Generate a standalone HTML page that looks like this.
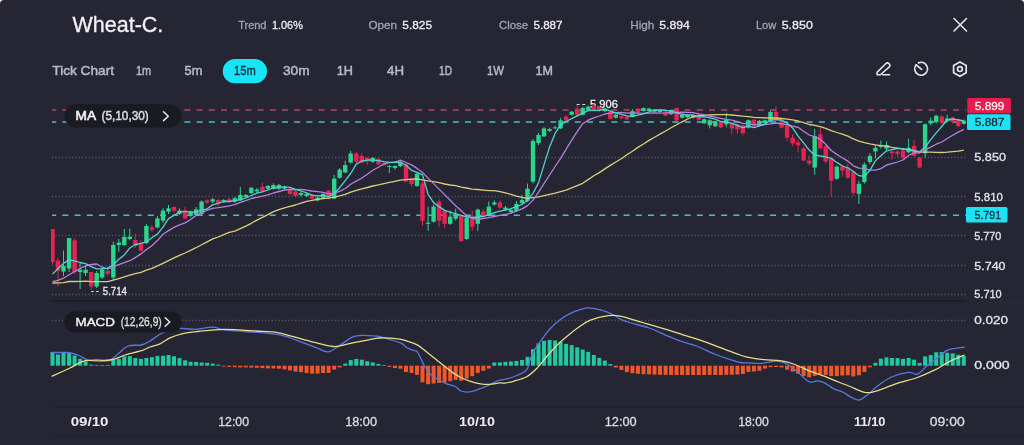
<!DOCTYPE html>
<html><head><meta charset="utf-8"><style>
html,body{margin:0;padding:0;background:#ffffff;}
body{width:1024px;height:445px;overflow:hidden;position:relative;}
svg{position:absolute;left:0;top:0;will-change:transform;font-family:"Liberation Sans",sans-serif;}
</style></head><body>
<svg width="1024" height="445" viewBox="0 0 1024 445">
<path d="M0 4 A4 4 0 0 1 4 0 H1020 A4 4 0 0 1 1024 4 V445 H0 Z" fill="#262533"/>
<text x="72.5" y="32.2" font-size="21.6" fill="#f2f2f6" font-weight="400" textLength="90.8" lengthAdjust="spacingAndGlyphs" stroke="#f2f2f6" stroke-width="0.3">Wheat-C.</text>
<text x="238.2" y="29.0" font-size="11.4" fill="#a3a3b0" font-weight="400" textLength="28.3" lengthAdjust="spacingAndGlyphs" stroke="#a3a3b0" stroke-width="0.3">Trend</text>
<text x="272.0" y="29.0" font-size="11.4" fill="#ececf2" font-weight="400" textLength="30.8" lengthAdjust="spacingAndGlyphs" stroke="#ececf2" stroke-width="0.3">1.06%</text>
<text x="368.4" y="29.0" font-size="11.4" fill="#a3a3b0" font-weight="400" textLength="28.6" lengthAdjust="spacingAndGlyphs" stroke="#a3a3b0" stroke-width="0.3">Open</text>
<text x="402.3" y="29.0" font-size="11.4" fill="#ececf2" font-weight="400" textLength="29.7" lengthAdjust="spacingAndGlyphs" stroke="#ececf2" stroke-width="0.3">5.825</text>
<text x="499.0" y="29.0" font-size="11.4" fill="#a3a3b0" font-weight="400" textLength="29.0" lengthAdjust="spacingAndGlyphs" stroke="#a3a3b0" stroke-width="0.3">Close</text>
<text x="533.5" y="29.0" font-size="11.4" fill="#ececf2" font-weight="400" textLength="29.0" lengthAdjust="spacingAndGlyphs" stroke="#ececf2" stroke-width="0.3">5.887</text>
<text x="630.2" y="29.0" font-size="11.4" fill="#a3a3b0" font-weight="400" textLength="24.2" lengthAdjust="spacingAndGlyphs" stroke="#a3a3b0" stroke-width="0.3">High</text>
<text x="659.2" y="29.0" font-size="11.4" fill="#ececf2" font-weight="400" textLength="30.6" lengthAdjust="spacingAndGlyphs" stroke="#ececf2" stroke-width="0.3">5.894</text>
<text x="755.9" y="29.0" font-size="11.4" fill="#a3a3b0" font-weight="400" textLength="20.3" lengthAdjust="spacingAndGlyphs" stroke="#a3a3b0" stroke-width="0.3">Low</text>
<text x="781.7" y="29.0" font-size="11.4" fill="#ececf2" font-weight="400" textLength="31.2" lengthAdjust="spacingAndGlyphs" stroke="#ececf2" stroke-width="0.3">5.850</text>
<path d="M954 18.5 L966.5 31 M966.5 18.5 L954 31" stroke="#e6e6ee" stroke-width="1.6" stroke-linecap="round" fill="none"/>
<text x="52.3" y="75.0" font-size="13.2" fill="#b9b9c6" font-weight="500" textLength="61.7" lengthAdjust="spacingAndGlyphs" stroke="#b9b9c6" stroke-width="0.5">Tick Chart</text>
<text x="136.0" y="75.0" font-size="13.2" fill="#b9b9c6" font-weight="500" textLength="15.1" lengthAdjust="spacingAndGlyphs" stroke="#b9b9c6" stroke-width="0.5">1m</text>
<text x="184.6" y="75.0" font-size="13.2" fill="#b9b9c6" font-weight="500" textLength="17.8" lengthAdjust="spacingAndGlyphs" stroke="#b9b9c6" stroke-width="0.5">5m</text>
<text x="283.0" y="75.0" font-size="13.2" fill="#b9b9c6" font-weight="500" textLength="26.6" lengthAdjust="spacingAndGlyphs" stroke="#b9b9c6" stroke-width="0.5">30m</text>
<text x="336.8" y="75.0" font-size="13.2" fill="#b9b9c6" font-weight="500" textLength="16.2" lengthAdjust="spacingAndGlyphs" stroke="#b9b9c6" stroke-width="0.5">1H</text>
<text x="387.0" y="75.0" font-size="13.2" fill="#b9b9c6" font-weight="500" textLength="17.0" lengthAdjust="spacingAndGlyphs" stroke="#b9b9c6" stroke-width="0.5">4H</text>
<text x="439.0" y="75.0" font-size="13.2" fill="#b9b9c6" font-weight="500" textLength="13.0" lengthAdjust="spacingAndGlyphs" stroke="#b9b9c6" stroke-width="0.5">1D</text>
<text x="487.0" y="75.0" font-size="13.2" fill="#b9b9c6" font-weight="500" textLength="17.0" lengthAdjust="spacingAndGlyphs" stroke="#b9b9c6" stroke-width="0.5">1W</text>
<text x="535.6" y="75.0" font-size="13.2" fill="#b9b9c6" font-weight="500" textLength="17.4" lengthAdjust="spacingAndGlyphs" stroke="#b9b9c6" stroke-width="0.5">1M</text>
<rect x="222.8" y="59.1" width="44.2" height="24.2" rx="12.1" fill="#17e4f5"/>
<text x="234.0" y="75.0" font-size="13.2" fill="#14303a" font-weight="500" textLength="21.7" lengthAdjust="spacingAndGlyphs" stroke="#14303a" stroke-width="0.4">15m</text>
<g transform="translate(872 58)" fill="none" stroke="#e6e6ee" stroke-width="1.5" stroke-linecap="round" stroke-linejoin="round"><path d="M5 16.7 V14.4 L13.7 5.7 a2.4 2.4 0 0 1 3.4 3.4 L8.4 16.7 Z"/><path d="M10.6 16.7 H17.6"/></g>
<g fill="none" stroke="#e6e6ee" stroke-width="1.7" stroke-linecap="round"><path d="M918.5 62.9 A6.4 6.4 0 1 1 916.3 73"/><path d="M916.2 64.8 A6.4 6.4 0 0 0 916.3 73"/><path d="M916.2 64.8 L921.6 69.3"/></g>
<g fill="none" stroke="#e6e6ee" stroke-width="1.7" stroke-linejoin="round"><path d="M959.9 61.9 L966.2 65.5 L966.2 72.7 L959.9 76.3 L953.6 72.7 L953.6 65.5 Z"/><circle cx="959.9" cy="69.1" r="2.4"/></g>
<line x1="52" y1="157.5" x2="966" y2="157.5" stroke="#5a5a6c" stroke-width="1.3" stroke-dasharray="1.1 2.23"/>
<line x1="52" y1="196.5" x2="966" y2="196.5" stroke="#5a5a6c" stroke-width="1.3" stroke-dasharray="1.1 2.23"/>
<line x1="52" y1="235.5" x2="966" y2="235.5" stroke="#5a5a6c" stroke-width="1.3" stroke-dasharray="1.1 2.23"/>
<line x1="52" y1="265.5" x2="966" y2="265.5" stroke="#5a5a6c" stroke-width="1.3" stroke-dasharray="1.1 2.23"/>
<line x1="52" y1="294.5" x2="966" y2="294.5" stroke="#5a5a6c" stroke-width="1.3" stroke-dasharray="1.1 2.23"/>
<line x1="52" y1="320.5" x2="966" y2="320.5" stroke="#5a5a6c" stroke-width="1.3" stroke-dasharray="1.1 2.23"/>
<line x1="52" y1="300.8" x2="966" y2="300.8" stroke="#1c1b26" stroke-width="1.2"/>
<line x1="968" y1="302.2" x2="1024" y2="302.2" stroke="#2d2c3b" stroke-width="1"/>
<line x1="52" y1="407.5" x2="1024" y2="407.5" stroke="#201f2b" stroke-width="1"/>
<line x1="52" y1="435.5" x2="1024" y2="435.5" stroke="#201f2b" stroke-width="1"/>
<line x1="52" y1="110" x2="966" y2="110" stroke="#b4456a" stroke-width="1.5" stroke-dasharray="6 6.2" stroke-dashoffset="1.8"/>
<line x1="52" y1="122" x2="966" y2="122" stroke="#45c0c4" stroke-width="1.5" stroke-dasharray="6 6.2" stroke-dashoffset="1.8"/>
<line x1="52" y1="215.3" x2="966" y2="215.3" stroke="#45c0c4" stroke-width="1.5" stroke-dasharray="6 6.2" stroke-dashoffset="1.8"/>
<text x="576.4" y="106.5" font-size="10" fill="#e6e6ee" font-weight="400" textLength="9.1" lengthAdjust="spacingAndGlyphs" stroke="#e6e6ee" stroke-width="0.3">- -</text>
<text x="589.9" y="107.6" font-size="11" fill="#ececf2" font-weight="400" textLength="28.1" lengthAdjust="spacingAndGlyphs" stroke="#ececf2" stroke-width="0.3">5.906</text>
<defs><clipPath id="cc"><rect x="51" y="90" width="916" height="215"/></clipPath></defs><g clip-path="url(#cc)">
<line x1="52.5" y1="229.0" x2="52.5" y2="264.0" stroke="#e62352" stroke-width="1"/>
<rect x="50.3" y="229.0" width="4.4" height="33.0" fill="#e62352"/>
<line x1="58.0" y1="258.0" x2="58.0" y2="286.3" stroke="#e62352" stroke-width="1"/>
<rect x="55.8" y="260.6" width="4.4" height="10.4" fill="#e62352"/>
<line x1="63.5" y1="250.5" x2="63.5" y2="276.0" stroke="#2ad68e" stroke-width="1"/>
<rect x="61.3" y="266.0" width="4.4" height="5.5" fill="#2ad68e"/>
<line x1="69.1" y1="238.0" x2="69.1" y2="272.0" stroke="#2ad68e" stroke-width="1"/>
<rect x="66.9" y="238.0" width="4.4" height="30.5" fill="#2ad68e"/>
<line x1="74.6" y1="238.0" x2="74.6" y2="274.0" stroke="#e62352" stroke-width="1"/>
<rect x="72.4" y="240.4" width="4.4" height="31.6" fill="#e62352"/>
<line x1="80.1" y1="263.0" x2="80.1" y2="289.0" stroke="#2ad68e" stroke-width="1"/>
<rect x="77.9" y="269.7" width="4.4" height="2.3" fill="#2ad68e"/>
<line x1="85.6" y1="265.0" x2="85.6" y2="276.0" stroke="#2ad68e" stroke-width="1"/>
<rect x="83.4" y="269.7" width="4.4" height="3.3" fill="#2ad68e"/>
<line x1="91.2" y1="272.0" x2="91.2" y2="290.0" stroke="#e62352" stroke-width="1"/>
<rect x="89.0" y="272.0" width="4.4" height="14.5" fill="#e62352"/>
<line x1="96.7" y1="271.0" x2="96.7" y2="288.0" stroke="#2ad68e" stroke-width="1"/>
<rect x="94.5" y="273.0" width="4.4" height="13.5" fill="#2ad68e"/>
<line x1="102.2" y1="267.0" x2="102.2" y2="279.0" stroke="#2ad68e" stroke-width="1"/>
<rect x="100.0" y="269.7" width="4.4" height="7.8" fill="#2ad68e"/>
<line x1="107.7" y1="267.0" x2="107.7" y2="276.0" stroke="#e62352" stroke-width="1"/>
<rect x="105.5" y="270.8" width="4.4" height="3.2" fill="#e62352"/>
<line x1="113.3" y1="241.6" x2="113.3" y2="280.0" stroke="#2ad68e" stroke-width="1"/>
<rect x="111.1" y="245.0" width="4.4" height="32.5" fill="#2ad68e"/>
<line x1="118.8" y1="239.0" x2="118.8" y2="251.7" stroke="#2ad68e" stroke-width="1"/>
<rect x="116.6" y="242.7" width="4.4" height="2.3" fill="#2ad68e"/>
<line x1="124.3" y1="229.0" x2="124.3" y2="246.0" stroke="#2ad68e" stroke-width="1"/>
<rect x="122.1" y="237.0" width="4.4" height="8.0" fill="#2ad68e"/>
<line x1="129.8" y1="228.7" x2="129.8" y2="240.4" stroke="#2ad68e" stroke-width="1"/>
<rect x="127.6" y="236.7" width="4.4" height="2.3" fill="#2ad68e"/>
<line x1="135.3" y1="233.7" x2="135.3" y2="248.0" stroke="#e62352" stroke-width="1"/>
<rect x="133.1" y="240.0" width="4.4" height="6.0" fill="#e62352"/>
<line x1="140.9" y1="240.4" x2="140.9" y2="251.7" stroke="#e62352" stroke-width="1"/>
<rect x="138.7" y="243.8" width="4.4" height="6.8" fill="#e62352"/>
<line x1="146.4" y1="224.0" x2="146.4" y2="244.0" stroke="#2ad68e" stroke-width="1"/>
<rect x="144.2" y="226.0" width="4.4" height="17.0" fill="#2ad68e"/>
<line x1="151.9" y1="225.0" x2="151.9" y2="232.0" stroke="#e62352" stroke-width="1"/>
<rect x="149.7" y="227.4" width="4.4" height="2.3" fill="#e62352"/>
<line x1="157.4" y1="216.0" x2="157.4" y2="228.5" stroke="#2ad68e" stroke-width="1"/>
<rect x="155.2" y="218.4" width="4.4" height="9.0" fill="#2ad68e"/>
<line x1="163.0" y1="208.3" x2="163.0" y2="223.0" stroke="#2ad68e" stroke-width="1"/>
<rect x="160.8" y="210.6" width="4.4" height="10.1" fill="#2ad68e"/>
<line x1="168.5" y1="205.0" x2="168.5" y2="214.0" stroke="#2ad68e" stroke-width="1"/>
<rect x="166.3" y="208.3" width="4.4" height="3.4" fill="#2ad68e"/>
<line x1="174.0" y1="206.0" x2="174.0" y2="212.8" stroke="#e62352" stroke-width="1"/>
<rect x="171.8" y="207.0" width="4.4" height="3.6" fill="#e62352"/>
<line x1="179.5" y1="208.3" x2="179.5" y2="215.0" stroke="#2ad68e" stroke-width="1"/>
<rect x="177.3" y="210.6" width="4.4" height="3.4" fill="#2ad68e"/>
<line x1="185.1" y1="206.8" x2="185.1" y2="219.2" stroke="#e62352" stroke-width="1"/>
<rect x="182.9" y="210.4" width="4.4" height="8.1" fill="#e62352"/>
<line x1="190.6" y1="210.6" x2="190.6" y2="217.3" stroke="#2ad68e" stroke-width="1"/>
<rect x="188.4" y="211.7" width="4.4" height="4.3" fill="#2ad68e"/>
<line x1="196.1" y1="207.0" x2="196.1" y2="216.0" stroke="#2ad68e" stroke-width="1"/>
<rect x="193.9" y="209.4" width="4.4" height="5.6" fill="#2ad68e"/>
<line x1="201.6" y1="200.4" x2="201.6" y2="215.0" stroke="#2ad68e" stroke-width="1"/>
<rect x="199.4" y="201.6" width="4.4" height="12.4" fill="#2ad68e"/>
<line x1="207.1" y1="199.3" x2="207.1" y2="203.8" stroke="#e62352" stroke-width="1"/>
<rect x="204.9" y="200.4" width="4.4" height="2.3" fill="#e62352"/>
<line x1="212.7" y1="198.0" x2="212.7" y2="203.0" stroke="#2ad68e" stroke-width="1"/>
<rect x="210.5" y="199.3" width="4.4" height="2.3" fill="#2ad68e"/>
<line x1="218.2" y1="198.6" x2="218.2" y2="206.0" stroke="#e62352" stroke-width="1"/>
<rect x="216.0" y="200.0" width="4.4" height="3.8" fill="#e62352"/>
<line x1="223.7" y1="199.0" x2="223.7" y2="203.0" stroke="#2ad68e" stroke-width="1"/>
<rect x="221.5" y="200.0" width="4.4" height="1.6" fill="#2ad68e"/>
<line x1="229.2" y1="198.0" x2="229.2" y2="203.0" stroke="#e62352" stroke-width="1"/>
<rect x="227.0" y="199.3" width="4.4" height="2.3" fill="#e62352"/>
<line x1="234.8" y1="197.0" x2="234.8" y2="203.0" stroke="#2ad68e" stroke-width="1"/>
<rect x="232.6" y="198.2" width="4.4" height="3.4" fill="#2ad68e"/>
<line x1="240.3" y1="186.9" x2="240.3" y2="201.0" stroke="#2ad68e" stroke-width="1"/>
<rect x="238.1" y="195.0" width="4.4" height="5.4" fill="#2ad68e"/>
<line x1="245.8" y1="194.0" x2="245.8" y2="198.0" stroke="#2ad68e" stroke-width="1"/>
<rect x="243.6" y="195.0" width="4.4" height="2.0" fill="#2ad68e"/>
<line x1="251.3" y1="186.9" x2="251.3" y2="194.0" stroke="#2ad68e" stroke-width="1"/>
<rect x="249.1" y="187.8" width="4.4" height="5.2" fill="#2ad68e"/>
<line x1="256.9" y1="188.0" x2="256.9" y2="193.0" stroke="#2ad68e" stroke-width="1"/>
<rect x="254.7" y="189.6" width="4.4" height="1.8" fill="#2ad68e"/>
<line x1="262.4" y1="182.4" x2="262.4" y2="192.3" stroke="#e62352" stroke-width="1"/>
<rect x="260.2" y="186.9" width="4.4" height="4.5" fill="#e62352"/>
<line x1="267.9" y1="185.0" x2="267.9" y2="190.0" stroke="#2ad68e" stroke-width="1"/>
<rect x="265.7" y="186.0" width="4.4" height="2.7" fill="#2ad68e"/>
<line x1="273.4" y1="183.3" x2="273.4" y2="189.6" stroke="#2ad68e" stroke-width="1"/>
<rect x="271.2" y="185.0" width="4.4" height="3.7" fill="#2ad68e"/>
<line x1="278.9" y1="184.0" x2="278.9" y2="190.0" stroke="#2ad68e" stroke-width="1"/>
<rect x="276.7" y="185.0" width="4.4" height="3.7" fill="#2ad68e"/>
<line x1="284.5" y1="185.5" x2="284.5" y2="190.0" stroke="#2ad68e" stroke-width="1"/>
<rect x="282.3" y="186.9" width="4.4" height="1.8" fill="#2ad68e"/>
<line x1="290.0" y1="186.9" x2="290.0" y2="195.0" stroke="#e62352" stroke-width="1"/>
<rect x="287.8" y="188.7" width="4.4" height="5.3" fill="#e62352"/>
<line x1="295.5" y1="190.0" x2="295.5" y2="197.0" stroke="#e62352" stroke-width="1"/>
<rect x="293.3" y="191.4" width="4.4" height="4.5" fill="#e62352"/>
<line x1="301.0" y1="192.0" x2="301.0" y2="196.5" stroke="#2ad68e" stroke-width="1"/>
<rect x="298.8" y="193.0" width="4.4" height="2.0" fill="#2ad68e"/>
<line x1="306.6" y1="193.0" x2="306.6" y2="197.0" stroke="#2ad68e" stroke-width="1"/>
<rect x="304.4" y="194.0" width="4.4" height="1.9" fill="#2ad68e"/>
<line x1="312.1" y1="194.0" x2="312.1" y2="200.4" stroke="#e62352" stroke-width="1"/>
<rect x="309.9" y="195.0" width="4.4" height="3.6" fill="#e62352"/>
<line x1="317.6" y1="196.0" x2="317.6" y2="201.3" stroke="#2ad68e" stroke-width="1"/>
<rect x="315.4" y="197.7" width="4.4" height="2.7" fill="#2ad68e"/>
<line x1="323.1" y1="193.0" x2="323.1" y2="199.0" stroke="#2ad68e" stroke-width="1"/>
<rect x="320.9" y="194.0" width="4.4" height="3.7" fill="#2ad68e"/>
<line x1="328.6" y1="190.0" x2="328.6" y2="199.5" stroke="#e62352" stroke-width="1"/>
<rect x="326.4" y="190.5" width="4.4" height="8.0" fill="#e62352"/>
<line x1="334.2" y1="175.0" x2="334.2" y2="199.0" stroke="#2ad68e" stroke-width="1"/>
<rect x="332.0" y="178.7" width="4.4" height="19.8" fill="#2ad68e"/>
<line x1="339.7" y1="168.0" x2="339.7" y2="178.7" stroke="#2ad68e" stroke-width="1"/>
<rect x="337.5" y="169.7" width="4.4" height="8.1" fill="#2ad68e"/>
<line x1="345.2" y1="160.7" x2="345.2" y2="173.3" stroke="#2ad68e" stroke-width="1"/>
<rect x="343.0" y="165.0" width="4.4" height="7.4" fill="#2ad68e"/>
<line x1="350.7" y1="150.8" x2="350.7" y2="163.4" stroke="#2ad68e" stroke-width="1"/>
<rect x="348.5" y="153.5" width="4.4" height="9.0" fill="#2ad68e"/>
<line x1="356.3" y1="152.0" x2="356.3" y2="163.0" stroke="#e62352" stroke-width="1"/>
<rect x="354.1" y="153.5" width="4.4" height="8.0" fill="#e62352"/>
<line x1="361.8" y1="153.5" x2="361.8" y2="163.4" stroke="#e62352" stroke-width="1"/>
<rect x="359.6" y="156.0" width="4.4" height="6.5" fill="#e62352"/>
<line x1="367.3" y1="157.0" x2="367.3" y2="165.0" stroke="#e62352" stroke-width="1"/>
<rect x="365.1" y="158.0" width="4.4" height="3.6" fill="#e62352"/>
<line x1="372.8" y1="157.0" x2="372.8" y2="163.0" stroke="#2ad68e" stroke-width="1"/>
<rect x="370.6" y="158.0" width="4.4" height="3.6" fill="#2ad68e"/>
<line x1="378.4" y1="158.0" x2="378.4" y2="165.0" stroke="#e62352" stroke-width="1"/>
<rect x="376.2" y="158.9" width="4.4" height="5.4" fill="#e62352"/>
<line x1="383.9" y1="162.0" x2="383.9" y2="166.0" stroke="#e62352" stroke-width="1"/>
<rect x="381.7" y="163.4" width="4.4" height="1.8" fill="#e62352"/>
<line x1="389.4" y1="165.0" x2="389.4" y2="173.0" stroke="#2ad68e" stroke-width="1"/>
<rect x="387.2" y="166.0" width="4.4" height="1.0" fill="#2ad68e"/>
<line x1="394.9" y1="165.0" x2="394.9" y2="170.0" stroke="#2ad68e" stroke-width="1"/>
<rect x="392.7" y="166.0" width="4.4" height="1.9" fill="#2ad68e"/>
<line x1="400.4" y1="160.7" x2="400.4" y2="167.0" stroke="#2ad68e" stroke-width="1"/>
<rect x="398.2" y="162.5" width="4.4" height="3.5" fill="#2ad68e"/>
<line x1="406.0" y1="162.5" x2="406.0" y2="182.3" stroke="#e62352" stroke-width="1"/>
<rect x="403.8" y="164.3" width="4.4" height="17.1" fill="#e62352"/>
<line x1="411.5" y1="177.8" x2="411.5" y2="186.8" stroke="#e62352" stroke-width="1"/>
<rect x="409.3" y="178.7" width="4.4" height="5.3" fill="#e62352"/>
<line x1="417.0" y1="172.4" x2="417.0" y2="186.8" stroke="#2ad68e" stroke-width="1"/>
<rect x="414.8" y="174.0" width="4.4" height="11.9" fill="#2ad68e"/>
<line x1="422.5" y1="181.0" x2="422.5" y2="225.8" stroke="#e62352" stroke-width="1"/>
<rect x="420.3" y="183.3" width="4.4" height="37.4" fill="#e62352"/>
<line x1="428.1" y1="206.6" x2="428.1" y2="230.9" stroke="#2ad68e" stroke-width="1"/>
<rect x="425.9" y="222.7" width="4.4" height="1.1" fill="#2ad68e"/>
<line x1="433.6" y1="204.5" x2="433.6" y2="222.7" stroke="#2ad68e" stroke-width="1"/>
<rect x="431.4" y="206.6" width="4.4" height="15.1" fill="#2ad68e"/>
<line x1="439.1" y1="199.5" x2="439.1" y2="226.8" stroke="#e62352" stroke-width="1"/>
<rect x="436.9" y="201.5" width="4.4" height="19.2" fill="#e62352"/>
<line x1="444.6" y1="209.6" x2="444.6" y2="227.8" stroke="#e62352" stroke-width="1"/>
<rect x="442.4" y="210.6" width="4.4" height="13.2" fill="#e62352"/>
<line x1="450.2" y1="210.6" x2="450.2" y2="224.8" stroke="#2ad68e" stroke-width="1"/>
<rect x="448.0" y="216.7" width="4.4" height="7.1" fill="#2ad68e"/>
<line x1="455.7" y1="208.6" x2="455.7" y2="220.7" stroke="#2ad68e" stroke-width="1"/>
<rect x="453.5" y="214.7" width="4.4" height="4.0" fill="#2ad68e"/>
<line x1="461.2" y1="215.7" x2="461.2" y2="242.0" stroke="#e62352" stroke-width="1"/>
<rect x="459.0" y="215.7" width="4.4" height="25.3" fill="#e62352"/>
<line x1="466.7" y1="216.7" x2="466.7" y2="240.0" stroke="#2ad68e" stroke-width="1"/>
<rect x="464.5" y="217.7" width="4.4" height="21.3" fill="#2ad68e"/>
<line x1="472.2" y1="210.6" x2="472.2" y2="230.9" stroke="#e62352" stroke-width="1"/>
<rect x="470.0" y="217.7" width="4.4" height="9.1" fill="#e62352"/>
<line x1="477.8" y1="208.6" x2="477.8" y2="230.9" stroke="#2ad68e" stroke-width="1"/>
<rect x="475.6" y="209.6" width="4.4" height="14.2" fill="#2ad68e"/>
<line x1="483.3" y1="209.6" x2="483.3" y2="217.7" stroke="#e62352" stroke-width="1"/>
<rect x="481.1" y="211.6" width="4.4" height="5.1" fill="#e62352"/>
<line x1="488.8" y1="201.5" x2="488.8" y2="216.7" stroke="#2ad68e" stroke-width="1"/>
<rect x="486.6" y="206.6" width="4.4" height="9.1" fill="#2ad68e"/>
<line x1="494.3" y1="200.5" x2="494.3" y2="205.5" stroke="#2ad68e" stroke-width="1"/>
<rect x="492.1" y="202.5" width="4.4" height="2.0" fill="#2ad68e"/>
<line x1="499.9" y1="200.5" x2="499.9" y2="208.6" stroke="#e62352" stroke-width="1"/>
<rect x="497.7" y="202.5" width="4.4" height="5.1" fill="#e62352"/>
<line x1="505.4" y1="206.0" x2="505.4" y2="211.0" stroke="#2ad68e" stroke-width="1"/>
<rect x="503.2" y="207.6" width="4.4" height="2.0" fill="#2ad68e"/>
<line x1="510.9" y1="209.0" x2="510.9" y2="213.0" stroke="#2ad68e" stroke-width="1"/>
<rect x="508.7" y="210.0" width="4.4" height="2.0" fill="#2ad68e"/>
<line x1="516.4" y1="200.9" x2="516.4" y2="212.0" stroke="#2ad68e" stroke-width="1"/>
<rect x="514.2" y="203.9" width="4.4" height="7.1" fill="#2ad68e"/>
<line x1="522.0" y1="194.8" x2="522.0" y2="204.9" stroke="#2ad68e" stroke-width="1"/>
<rect x="519.8" y="200.0" width="4.4" height="3.0" fill="#2ad68e"/>
<line x1="527.5" y1="183.6" x2="527.5" y2="201.9" stroke="#2ad68e" stroke-width="1"/>
<rect x="525.3" y="188.7" width="4.4" height="12.2" fill="#2ad68e"/>
<line x1="533.0" y1="139.0" x2="533.0" y2="183.6" stroke="#2ad68e" stroke-width="1"/>
<rect x="530.8" y="141.0" width="4.4" height="40.6" fill="#2ad68e"/>
<line x1="538.5" y1="133.0" x2="538.5" y2="145.0" stroke="#2ad68e" stroke-width="1"/>
<rect x="536.3" y="135.0" width="4.4" height="8.0" fill="#2ad68e"/>
<line x1="544.0" y1="127.2" x2="544.0" y2="137.0" stroke="#2ad68e" stroke-width="1"/>
<rect x="541.8" y="128.4" width="4.4" height="8.0" fill="#2ad68e"/>
<line x1="549.6" y1="127.8" x2="549.6" y2="132.0" stroke="#2ad68e" stroke-width="1"/>
<rect x="547.4" y="129.0" width="4.4" height="1.8" fill="#2ad68e"/>
<line x1="555.1" y1="125.9" x2="555.1" y2="129.0" stroke="#2ad68e" stroke-width="1"/>
<rect x="552.9" y="127.4" width="4.4" height="1.0" fill="#2ad68e"/>
<line x1="560.6" y1="117.9" x2="560.6" y2="129.0" stroke="#2ad68e" stroke-width="1"/>
<rect x="558.4" y="120.3" width="4.4" height="8.1" fill="#2ad68e"/>
<line x1="566.1" y1="114.8" x2="566.1" y2="121.6" stroke="#e62352" stroke-width="1"/>
<rect x="563.9" y="116.6" width="4.4" height="3.7" fill="#e62352"/>
<line x1="571.7" y1="111.0" x2="571.7" y2="115.4" stroke="#2ad68e" stroke-width="1"/>
<rect x="569.5" y="111.7" width="4.4" height="3.1" fill="#2ad68e"/>
<line x1="577.2" y1="105.5" x2="577.2" y2="115.4" stroke="#e62352" stroke-width="1"/>
<rect x="575.0" y="108.6" width="4.4" height="6.2" fill="#e62352"/>
<line x1="582.7" y1="106.7" x2="582.7" y2="115.4" stroke="#2ad68e" stroke-width="1"/>
<rect x="580.5" y="108.0" width="4.4" height="6.8" fill="#2ad68e"/>
<line x1="588.2" y1="105.5" x2="588.2" y2="110.5" stroke="#2ad68e" stroke-width="1"/>
<rect x="586.0" y="106.7" width="4.4" height="3.1" fill="#2ad68e"/>
<line x1="593.8" y1="103.5" x2="593.8" y2="111.7" stroke="#e62352" stroke-width="1"/>
<rect x="591.6" y="105.5" width="4.4" height="5.5" fill="#e62352"/>
<line x1="599.3" y1="106.0" x2="599.3" y2="112.0" stroke="#e62352" stroke-width="1"/>
<rect x="597.1" y="107.0" width="4.4" height="4.0" fill="#e62352"/>
<line x1="604.8" y1="108.0" x2="604.8" y2="112.0" stroke="#2ad68e" stroke-width="1"/>
<rect x="602.6" y="108.6" width="4.4" height="2.6" fill="#2ad68e"/>
<line x1="610.3" y1="111.0" x2="610.3" y2="119.5" stroke="#e62352" stroke-width="1"/>
<rect x="608.1" y="112.0" width="4.4" height="6.8" fill="#e62352"/>
<line x1="615.8" y1="114.0" x2="615.8" y2="118.5" stroke="#2ad68e" stroke-width="1"/>
<rect x="613.6" y="114.7" width="4.4" height="3.0" fill="#2ad68e"/>
<line x1="621.4" y1="115.5" x2="621.4" y2="119.0" stroke="#e62352" stroke-width="1"/>
<rect x="619.2" y="116.2" width="4.4" height="2.1" fill="#e62352"/>
<line x1="626.9" y1="116.0" x2="626.9" y2="120.0" stroke="#e62352" stroke-width="1"/>
<rect x="624.7" y="116.7" width="4.4" height="2.6" fill="#e62352"/>
<line x1="632.4" y1="109.2" x2="632.4" y2="116.7" stroke="#2ad68e" stroke-width="1"/>
<rect x="630.2" y="111.2" width="4.4" height="5.0" fill="#2ad68e"/>
<line x1="637.9" y1="108.0" x2="637.9" y2="113.5" stroke="#e62352" stroke-width="1"/>
<rect x="635.7" y="108.6" width="4.4" height="4.1" fill="#e62352"/>
<line x1="643.5" y1="107.5" x2="643.5" y2="111.5" stroke="#2ad68e" stroke-width="1"/>
<rect x="641.3" y="108.0" width="4.4" height="3.0" fill="#2ad68e"/>
<line x1="649.0" y1="108.0" x2="649.0" y2="111.5" stroke="#2ad68e" stroke-width="1"/>
<rect x="646.8" y="108.6" width="4.4" height="2.4" fill="#2ad68e"/>
<line x1="654.5" y1="109.0" x2="654.5" y2="112.0" stroke="#2ad68e" stroke-width="1"/>
<rect x="652.3" y="109.7" width="4.4" height="2.0" fill="#2ad68e"/>
<line x1="660.0" y1="109.5" x2="660.0" y2="112.5" stroke="#2ad68e" stroke-width="1"/>
<rect x="657.8" y="110.0" width="4.4" height="2.0" fill="#2ad68e"/>
<line x1="665.6" y1="110.5" x2="665.6" y2="116.0" stroke="#e62352" stroke-width="1"/>
<rect x="663.4" y="111.2" width="4.4" height="4.5" fill="#e62352"/>
<line x1="671.1" y1="109.5" x2="671.1" y2="115.0" stroke="#2ad68e" stroke-width="1"/>
<rect x="668.9" y="110.0" width="4.4" height="4.2" fill="#2ad68e"/>
<line x1="676.6" y1="107.5" x2="676.6" y2="121.0" stroke="#e62352" stroke-width="1"/>
<rect x="674.4" y="108.0" width="4.4" height="12.3" fill="#e62352"/>
<line x1="682.1" y1="114.0" x2="682.1" y2="118.5" stroke="#2ad68e" stroke-width="1"/>
<rect x="679.9" y="114.7" width="4.4" height="3.0" fill="#2ad68e"/>
<line x1="687.6" y1="114.0" x2="687.6" y2="118.0" stroke="#2ad68e" stroke-width="1"/>
<rect x="685.4" y="114.7" width="4.4" height="2.5" fill="#2ad68e"/>
<line x1="693.2" y1="114.5" x2="693.2" y2="118.5" stroke="#2ad68e" stroke-width="1"/>
<rect x="691.0" y="115.2" width="4.4" height="2.5" fill="#2ad68e"/>
<line x1="698.7" y1="114.0" x2="698.7" y2="120.5" stroke="#e62352" stroke-width="1"/>
<rect x="696.5" y="114.7" width="4.4" height="5.1" fill="#e62352"/>
<line x1="704.2" y1="118.5" x2="704.2" y2="124.0" stroke="#2ad68e" stroke-width="1"/>
<rect x="702.0" y="119.3" width="4.4" height="4.0" fill="#2ad68e"/>
<line x1="709.7" y1="119.5" x2="709.7" y2="128.4" stroke="#2ad68e" stroke-width="1"/>
<rect x="707.5" y="120.3" width="4.4" height="5.0" fill="#2ad68e"/>
<line x1="715.3" y1="120.5" x2="715.3" y2="127.0" stroke="#2ad68e" stroke-width="1"/>
<rect x="713.1" y="121.3" width="4.4" height="5.0" fill="#2ad68e"/>
<line x1="720.8" y1="121.5" x2="720.8" y2="128.0" stroke="#e62352" stroke-width="1"/>
<rect x="718.6" y="122.3" width="4.4" height="5.1" fill="#e62352"/>
<line x1="726.3" y1="113.0" x2="726.3" y2="127.4" stroke="#2ad68e" stroke-width="1"/>
<rect x="724.1" y="119.8" width="4.4" height="4.5" fill="#2ad68e"/>
<line x1="731.8" y1="122.5" x2="731.8" y2="134.4" stroke="#e62352" stroke-width="1"/>
<rect x="729.6" y="123.3" width="4.4" height="5.1" fill="#e62352"/>
<line x1="737.4" y1="123.5" x2="737.4" y2="133.4" stroke="#e62352" stroke-width="1"/>
<rect x="735.2" y="124.3" width="4.4" height="5.1" fill="#e62352"/>
<line x1="742.9" y1="124.5" x2="742.9" y2="135.4" stroke="#e62352" stroke-width="1"/>
<rect x="740.7" y="125.3" width="4.4" height="7.9" fill="#e62352"/>
<line x1="748.4" y1="119.5" x2="748.4" y2="128.5" stroke="#2ad68e" stroke-width="1"/>
<rect x="746.2" y="120.3" width="4.4" height="7.3" fill="#2ad68e"/>
<line x1="753.9" y1="119.0" x2="753.9" y2="127.5" stroke="#e62352" stroke-width="1"/>
<rect x="751.7" y="119.7" width="4.4" height="6.8" fill="#e62352"/>
<line x1="759.4" y1="120.0" x2="759.4" y2="126.5" stroke="#2ad68e" stroke-width="1"/>
<rect x="757.2" y="120.8" width="4.4" height="5.1" fill="#2ad68e"/>
<line x1="765.0" y1="119.5" x2="765.0" y2="124.0" stroke="#2ad68e" stroke-width="1"/>
<rect x="762.8" y="120.3" width="4.4" height="2.8" fill="#2ad68e"/>
<line x1="770.5" y1="111.0" x2="770.5" y2="122.0" stroke="#2ad68e" stroke-width="1"/>
<rect x="768.3" y="111.9" width="4.4" height="9.5" fill="#2ad68e"/>
<line x1="776.0" y1="106.2" x2="776.0" y2="120.0" stroke="#e62352" stroke-width="1"/>
<rect x="773.8" y="111.9" width="4.4" height="7.3" fill="#e62352"/>
<line x1="781.5" y1="119.5" x2="781.5" y2="128.5" stroke="#e62352" stroke-width="1"/>
<rect x="779.3" y="120.3" width="4.4" height="7.3" fill="#e62352"/>
<line x1="787.1" y1="124.5" x2="787.1" y2="141.0" stroke="#e62352" stroke-width="1"/>
<rect x="784.9" y="125.3" width="4.4" height="12.4" fill="#e62352"/>
<line x1="792.6" y1="134.0" x2="792.6" y2="146.3" stroke="#e62352" stroke-width="1"/>
<rect x="790.4" y="137.7" width="4.4" height="5.6" fill="#e62352"/>
<line x1="798.1" y1="139.2" x2="798.1" y2="152.4" stroke="#e62352" stroke-width="1"/>
<rect x="795.9" y="142.3" width="4.4" height="3.0" fill="#e62352"/>
<line x1="803.6" y1="146.3" x2="803.6" y2="161.5" stroke="#e62352" stroke-width="1"/>
<rect x="801.4" y="148.3" width="4.4" height="12.2" fill="#e62352"/>
<line x1="809.2" y1="155.4" x2="809.2" y2="165.5" stroke="#e62352" stroke-width="1"/>
<rect x="807.0" y="160.5" width="4.4" height="3.0" fill="#e62352"/>
<line x1="814.7" y1="129.0" x2="814.7" y2="174.7" stroke="#2ad68e" stroke-width="1"/>
<rect x="812.5" y="136.2" width="4.4" height="31.4" fill="#2ad68e"/>
<line x1="820.2" y1="128.0" x2="820.2" y2="149.3" stroke="#e62352" stroke-width="1"/>
<rect x="818.0" y="134.2" width="4.4" height="14.1" fill="#e62352"/>
<line x1="825.7" y1="145.3" x2="825.7" y2="163.5" stroke="#e62352" stroke-width="1"/>
<rect x="823.5" y="146.3" width="4.4" height="15.2" fill="#e62352"/>
<line x1="831.2" y1="157.5" x2="831.2" y2="196.9" stroke="#e62352" stroke-width="1"/>
<rect x="829.0" y="158.5" width="4.4" height="22.2" fill="#e62352"/>
<line x1="836.8" y1="165.5" x2="836.8" y2="179.7" stroke="#2ad68e" stroke-width="1"/>
<rect x="834.6" y="166.6" width="4.4" height="12.1" fill="#2ad68e"/>
<line x1="842.3" y1="164.5" x2="842.3" y2="176.7" stroke="#e62352" stroke-width="1"/>
<rect x="840.1" y="166.6" width="4.4" height="4.0" fill="#e62352"/>
<line x1="847.8" y1="163.5" x2="847.8" y2="178.7" stroke="#e62352" stroke-width="1"/>
<rect x="845.6" y="167.6" width="4.4" height="10.1" fill="#e62352"/>
<line x1="853.3" y1="170.6" x2="853.3" y2="195.9" stroke="#e62352" stroke-width="1"/>
<rect x="851.1" y="171.6" width="4.4" height="21.3" fill="#e62352"/>
<line x1="858.9" y1="180.7" x2="858.9" y2="204.0" stroke="#2ad68e" stroke-width="1"/>
<rect x="856.7" y="183.8" width="4.4" height="10.1" fill="#2ad68e"/>
<line x1="864.4" y1="162.5" x2="864.4" y2="183.7" stroke="#2ad68e" stroke-width="1"/>
<rect x="862.2" y="164.5" width="4.4" height="17.5" fill="#2ad68e"/>
<line x1="869.9" y1="153.2" x2="869.9" y2="164.0" stroke="#2ad68e" stroke-width="1"/>
<rect x="867.7" y="155.9" width="4.4" height="6.1" fill="#2ad68e"/>
<line x1="875.4" y1="145.0" x2="875.4" y2="158.6" stroke="#2ad68e" stroke-width="1"/>
<rect x="873.2" y="147.8" width="4.4" height="3.6" fill="#2ad68e"/>
<line x1="880.9" y1="140.6" x2="880.9" y2="148.7" stroke="#2ad68e" stroke-width="1"/>
<rect x="878.7" y="145.0" width="4.4" height="1.9" fill="#2ad68e"/>
<line x1="886.5" y1="141.5" x2="886.5" y2="150.5" stroke="#2ad68e" stroke-width="1"/>
<rect x="884.3" y="145.0" width="4.4" height="3.7" fill="#2ad68e"/>
<line x1="892.0" y1="150.5" x2="892.0" y2="159.5" stroke="#e62352" stroke-width="1"/>
<rect x="889.8" y="151.4" width="4.4" height="1.8" fill="#e62352"/>
<line x1="897.5" y1="150.5" x2="897.5" y2="156.8" stroke="#e62352" stroke-width="1"/>
<rect x="895.3" y="151.4" width="4.4" height="2.7" fill="#e62352"/>
<line x1="903.0" y1="148.7" x2="903.0" y2="159.5" stroke="#e62352" stroke-width="1"/>
<rect x="900.8" y="150.5" width="4.4" height="7.2" fill="#e62352"/>
<line x1="908.6" y1="138.8" x2="908.6" y2="153.2" stroke="#2ad68e" stroke-width="1"/>
<rect x="906.4" y="147.8" width="4.4" height="4.5" fill="#2ad68e"/>
<line x1="914.1" y1="139.7" x2="914.1" y2="156.8" stroke="#e62352" stroke-width="1"/>
<rect x="911.9" y="146.0" width="4.4" height="9.9" fill="#e62352"/>
<line x1="919.6" y1="156.8" x2="919.6" y2="167.6" stroke="#e62352" stroke-width="1"/>
<rect x="917.4" y="157.7" width="4.4" height="9.9" fill="#e62352"/>
<line x1="925.1" y1="123.5" x2="925.1" y2="157.7" stroke="#2ad68e" stroke-width="1"/>
<rect x="922.9" y="124.3" width="4.4" height="28.9" fill="#2ad68e"/>
<line x1="930.7" y1="117.5" x2="930.7" y2="125.2" stroke="#2ad68e" stroke-width="1"/>
<rect x="928.5" y="120.7" width="4.4" height="2.7" fill="#2ad68e"/>
<line x1="936.2" y1="114.8" x2="936.2" y2="123.4" stroke="#2ad68e" stroke-width="1"/>
<rect x="934.0" y="115.7" width="4.4" height="6.3" fill="#2ad68e"/>
<line x1="941.7" y1="114.8" x2="941.7" y2="124.2" stroke="#e62352" stroke-width="1"/>
<rect x="939.5" y="116.6" width="4.4" height="6.3" fill="#e62352"/>
<line x1="947.2" y1="114.8" x2="947.2" y2="122.5" stroke="#2ad68e" stroke-width="1"/>
<rect x="945.0" y="118.4" width="4.4" height="2.7" fill="#2ad68e"/>
<line x1="952.7" y1="116.6" x2="952.7" y2="123.4" stroke="#e62352" stroke-width="1"/>
<rect x="950.5" y="117.5" width="4.4" height="4.5" fill="#e62352"/>
<line x1="958.3" y1="118.4" x2="958.3" y2="127.0" stroke="#e62352" stroke-width="1"/>
<rect x="956.1" y="119.3" width="4.4" height="6.7" fill="#e62352"/>
<line x1="963.8" y1="119.5" x2="963.8" y2="124.5" stroke="#2ad68e" stroke-width="1"/>
<rect x="961.6" y="120.7" width="4.4" height="3.1" fill="#2ad68e"/>
</g>
<polyline points="52.5,283.0 58.0,282.9 63.5,282.7 69.1,281.5 74.6,281.5 80.1,281.3 85.6,281.2 91.2,281.7 96.7,281.7 102.2,281.6 107.7,281.6 113.3,280.1 118.8,278.6 124.3,276.8 129.8,275.1 135.3,273.6 140.9,272.4 146.4,270.2 151.9,268.3 157.4,265.9 163.0,263.3 168.5,260.6 174.0,257.9 179.5,255.3 185.1,253.0 190.6,250.4 196.1,247.7 201.6,244.8 207.1,241.9 212.7,238.9 218.2,237.0 223.7,234.6 229.2,232.4 234.8,231.1 240.3,228.6 245.8,226.1 251.3,223.3 256.9,220.1 262.4,217.4 267.9,214.6 273.4,211.6 278.9,209.6 284.5,207.8 290.0,206.3 295.5,205.0 301.0,203.2 306.6,201.3 312.1,200.4 317.6,199.3 323.1,198.5 328.6,198.1 334.2,197.1 339.7,195.8 345.2,194.3 350.7,192.1 356.3,190.4 361.8,188.8 367.3,187.5 372.8,186.0 378.4,184.9 383.9,183.6 389.4,182.4 394.9,181.3 400.4,180.1 406.0,179.6 411.5,179.2 417.0,178.8 422.5,179.8 428.1,180.9 433.6,181.6 439.1,182.7 444.6,184.0 450.2,185.0 455.7,185.7 461.2,187.2 466.7,188.0 472.2,189.1 477.8,189.5 483.3,190.1 488.8,190.6 494.3,190.7 499.9,191.7 505.4,192.9 510.9,194.4 516.4,196.1 522.0,197.4 527.5,198.3 533.0,197.6 538.5,196.8 544.0,195.6 549.6,194.4 555.1,193.1 560.6,191.6 566.1,190.2 571.7,187.9 577.2,185.6 582.7,183.3 588.2,179.6 593.8,175.8 599.3,172.6 604.8,168.9 610.3,165.4 615.8,162.0 621.4,158.8 626.9,154.7 632.4,151.2 637.9,147.4 643.5,144.0 649.0,140.4 654.5,137.2 660.0,134.1 665.6,131.0 671.1,127.8 676.6,124.8 682.1,121.8 687.6,119.0 693.2,116.5 698.7,115.8 704.2,115.3 709.7,115.0 715.3,114.7 720.8,114.7 726.3,114.7 731.8,115.0 737.4,115.6 742.9,116.2 748.4,116.6 753.9,117.3 759.4,117.6 765.0,117.9 770.5,118.0 776.0,118.0 781.5,118.5 787.1,119.1 792.6,119.9 798.1,121.0 803.6,122.6 809.2,124.5 814.7,125.4 820.2,126.7 825.7,128.4 831.2,130.6 836.8,132.5 842.3,134.1 847.8,136.2 853.3,138.8 858.9,141.1 864.4,142.6 869.9,143.8 875.4,144.8 880.9,145.6 886.5,146.1 892.0,147.3 897.5,148.1 903.0,149.1 908.6,149.5 914.1,150.7 919.6,152.1 925.1,152.2 930.7,152.2 936.2,152.4 941.7,152.5 947.2,152.2 952.7,151.6 958.3,151.1 963.8,150.2" fill="none" stroke="#d9cf7a" stroke-width="1.3" stroke-linejoin="round"/>
<polyline points="52.5,281.7 58.0,280.4 63.5,278.2 69.1,274.8 74.6,271.5 80.1,268.5 85.6,265.9 91.2,264.5 96.7,264.0 102.2,267.2 107.7,269.0 113.3,266.9 118.8,264.6 124.3,262.6 129.8,260.7 135.3,257.6 140.9,253.9 146.4,249.6 151.9,245.7 157.4,240.6 163.0,234.3 168.5,230.6 174.0,227.4 179.5,224.8 185.1,222.9 190.6,219.5 196.1,215.4 201.6,212.9 207.1,210.2 212.7,208.3 218.2,207.7 223.7,206.8 229.2,205.9 234.8,204.7 240.3,202.3 245.8,200.7 251.3,198.5 256.9,197.3 262.4,196.2 267.9,194.8 273.4,193.0 278.9,191.5 284.5,190.0 290.0,189.6 295.5,189.7 301.0,189.5 306.6,190.1 312.1,191.0 317.6,191.6 323.1,192.4 328.6,193.8 334.2,193.1 339.7,191.4 345.2,188.5 350.7,184.3 356.3,181.1 361.8,178.0 367.3,174.3 372.8,170.3 378.4,167.3 383.9,164.0 389.4,162.7 394.9,162.4 400.4,160.2 406.0,162.5 411.5,164.9 417.0,168.4 422.5,172.5 428.1,178.1 433.6,183.6 439.1,189.1 444.6,194.6 450.2,200.2 455.7,205.7 461.2,210.7 466.7,215.7 472.2,218.1 477.8,219.5 483.3,218.5 488.8,217.6 494.3,216.5 499.9,215.4 505.4,214.3 510.9,213.2 516.4,211.2 522.0,208.9 527.5,205.6 533.0,200.1 538.5,192.4 544.0,183.7 549.6,175.0 555.1,166.5 560.6,158.4 566.1,149.4 571.7,140.2 577.2,131.7 582.7,123.6 588.2,120.2 593.8,117.8 599.3,116.0 604.8,114.0 610.3,113.1 615.8,112.6 621.4,112.4 626.9,113.1 632.4,112.8 637.9,113.2 643.5,113.4 649.0,113.1 654.5,113.0 660.0,113.1 665.6,112.8 671.1,112.3 676.6,112.5 682.1,112.1 687.6,112.4 693.2,112.7 698.7,113.9 704.2,114.9 709.7,116.0 715.3,117.1 720.8,118.3 726.3,119.3 731.8,120.1 737.4,121.6 742.9,123.4 748.4,123.9 753.9,124.6 759.4,124.7 765.0,124.7 770.5,123.8 776.0,123.0 781.5,123.8 787.1,124.7 792.6,126.1 798.1,127.3 803.6,131.3 809.2,135.0 814.7,136.6 820.2,139.3 825.7,144.3 831.2,150.5 836.8,154.4 842.3,157.7 847.8,161.1 853.3,165.8 858.9,168.2 864.4,168.3 869.9,170.2 875.4,170.2 880.9,168.6 886.5,165.0 892.0,163.6 897.5,162.0 903.0,160.0 908.6,155.5 914.1,152.7 919.6,153.0 925.1,149.8 930.7,147.1 936.2,144.2 941.7,142.0 947.2,138.5 952.7,135.3 958.3,132.1 963.8,129.4" fill="none" stroke="#b57fe0" stroke-width="1.3" stroke-linejoin="round"/>
<polyline points="52.5,274.1 58.0,268.8 63.5,263.4 69.1,259.9 74.6,260.9 80.1,262.5 85.6,263.6 91.2,266.7 96.7,268.8 102.2,268.9 107.7,268.1 113.3,264.8 118.8,259.3 124.3,254.9 129.8,248.0 135.3,244.5 140.9,243.3 146.4,242.0 151.9,237.8 157.4,234.1 163.0,227.1 168.5,218.6 174.0,215.5 179.5,211.7 185.1,211.7 190.6,211.9 196.1,212.2 201.6,210.4 207.1,208.8 212.7,204.9 218.2,203.4 223.7,201.5 229.2,201.5 234.8,200.6 240.3,199.7 245.8,198.0 251.3,195.5 256.9,193.1 262.4,191.8 267.9,190.0 273.4,188.0 278.9,187.4 284.5,186.9 290.0,187.4 295.5,189.4 301.0,191.0 306.6,192.8 312.1,195.1 317.6,195.8 323.1,195.5 328.6,196.6 334.2,193.5 339.7,187.7 345.2,180.7 350.7,173.5 356.3,164.1 361.8,161.0 367.3,160.1 372.8,159.8 378.4,160.6 383.9,161.7 389.4,162.3 394.9,162.1 400.4,162.3 406.0,165.3 411.5,170.3 417.0,172.4 422.5,174.9 428.1,194.3 433.6,202.6 439.1,206.6 444.6,210.4 450.2,212.2 455.7,213.8 461.2,215.3 466.7,216.8 472.2,217.3 477.8,217.0 483.3,216.5 488.8,214.9 494.3,212.7 499.9,211.2 505.4,210.1 510.9,208.6 516.4,206.7 522.0,204.5 527.5,200.4 533.0,193.3 538.5,182.9 544.0,164.9 549.6,146.9 555.1,133.4 560.6,125.0 566.1,121.5 571.7,118.7 577.2,115.9 582.7,113.2 588.2,110.7 593.8,110.4 599.3,110.3 604.8,109.1 610.3,111.2 615.8,112.8 621.4,114.3 626.9,115.9 632.4,116.5 637.9,115.2 643.5,113.9 649.0,112.0 654.5,110.0 660.0,109.8 665.6,110.4 671.1,110.8 676.6,113.1 682.1,114.1 687.6,115.1 693.2,115.0 698.7,116.9 704.2,116.7 709.7,117.9 715.3,119.2 720.8,121.6 726.3,121.6 731.8,123.4 737.4,125.3 742.9,127.6 748.4,126.2 753.9,127.6 759.4,126.0 765.0,124.2 770.5,120.0 776.0,119.7 781.5,120.0 787.1,123.3 792.6,127.9 798.1,136.1 803.6,142.9 809.2,150.1 814.7,154.9 820.2,156.0 825.7,156.8 831.2,158.3 836.8,162.4 842.3,166.0 847.8,167.8 853.3,171.5 858.9,175.7 864.4,176.3 869.9,170.4 875.4,160.9 880.9,155.7 886.5,150.8 892.0,149.6 897.5,148.5 903.0,148.7 908.6,150.0 914.1,151.0 919.6,151.7 925.1,147.3 930.7,139.7 936.2,132.9 941.7,126.5 947.2,120.0 952.7,119.0 958.3,119.9 963.8,120.8" fill="none" stroke="#53d3cf" stroke-width="1.3" stroke-linejoin="round"/>
<text x="91.0" y="293.5" font-size="10" fill="#e6e6ee" font-weight="400" textLength="7.7" lengthAdjust="spacingAndGlyphs" stroke="#e6e6ee" stroke-width="0.3">- -</text>
<text x="102.8" y="294.6" font-size="11" fill="#ececf2" font-weight="400" textLength="24.1" lengthAdjust="spacingAndGlyphs" stroke="#ececf2" stroke-width="0.3">5.714</text>
<rect x="64.6" y="104.2" width="116.9" height="23.2" rx="11.6" fill="#1a1a23"/>
<text x="75.5" y="120.1" font-size="12.3" fill="#f0f0f4" font-weight="400" textLength="20.5" lengthAdjust="spacingAndGlyphs" stroke="#f0f0f4" stroke-width="0.6">MA</text>
<text x="101.5" y="120.1" font-size="12.3" fill="#d8d8e0" font-weight="400" textLength="47.2" lengthAdjust="spacingAndGlyphs" stroke="#d8d8e0" stroke-width="0.5">(5,10,30)</text>
<path d="M163.5 111.8 L168.3 116.2 L163.5 120.6" fill="none" stroke="#e8e8ee" stroke-width="1.5" stroke-linecap="round" stroke-linejoin="round"/>
<text x="974.3" y="161.2" font-size="11" fill="#e3e3ea" font-weight="400" textLength="31.7" lengthAdjust="spacingAndGlyphs" stroke="#e3e3ea" stroke-width="0.3">5.850</text>
<text x="974.3" y="200.8" font-size="11" fill="#e3e3ea" font-weight="400" textLength="28.5" lengthAdjust="spacingAndGlyphs" stroke="#e3e3ea" stroke-width="0.3">5.810</text>
<text x="974.3" y="239.9" font-size="11" fill="#e3e3ea" font-weight="400" textLength="27.1" lengthAdjust="spacingAndGlyphs" stroke="#e3e3ea" stroke-width="0.3">5.770</text>
<text x="974.3" y="269.5" font-size="11" fill="#e3e3ea" font-weight="400" textLength="31.2" lengthAdjust="spacingAndGlyphs" stroke="#e3e3ea" stroke-width="0.3">5.740</text>
<text x="974.3" y="298.3" font-size="11" fill="#e3e3ea" font-weight="400" textLength="27.4" lengthAdjust="spacingAndGlyphs" stroke="#e3e3ea" stroke-width="0.3">5.710</text>
<text x="974.3" y="324.3" font-size="11" fill="#e3e3ea" font-weight="400" textLength="33.7" lengthAdjust="spacingAndGlyphs" stroke="#e3e3ea" stroke-width="0.3">0.020</text>
<text x="974.3" y="369.3" font-size="11" fill="#e3e3ea" font-weight="400" textLength="35.3" lengthAdjust="spacingAndGlyphs" stroke="#e3e3ea" stroke-width="0.3">0.000</text>
<rect x="967.3" y="98" width="43.6" height="15.6" rx="1.5" fill="#e61c4c"/>
<text x="974.8" y="110.4" font-size="11.5" fill="#fff2f5" font-weight="400" textLength="29.6" lengthAdjust="spacingAndGlyphs" stroke="#fff2f5" stroke-width="0.3">5.899</text>
<rect x="967" y="114.2" width="43.5" height="15.8" rx="1.5" fill="#1be3f4"/>
<text x="974.8" y="126.3" font-size="11.5" fill="#0c2a38" font-weight="400" textLength="29.6" lengthAdjust="spacingAndGlyphs" stroke="#0c2a38" stroke-width="0.3">5.887</text>
<rect x="966" y="207.1" width="41.5" height="15.5" rx="1.5" fill="#1be3f4"/>
<text x="974.5" y="218.9" font-size="11.5" fill="#0c2a38" font-weight="400" textLength="26.6" lengthAdjust="spacingAndGlyphs" stroke="#0c2a38" stroke-width="0.3">5.791</text>
<rect x="50.5" y="352.0" width="4.0" height="13.7" fill="#22c9a0"/>
<rect x="56.0" y="354.5" width="4.0" height="11.2" fill="#22c9a0"/>
<rect x="61.5" y="353.0" width="4.0" height="12.7" fill="#22c9a0"/>
<rect x="67.1" y="352.8" width="4.0" height="12.9" fill="#22c9a0"/>
<rect x="72.6" y="355.5" width="4.0" height="10.2" fill="#22c9a0"/>
<rect x="78.1" y="358.8" width="4.0" height="6.9" fill="#22c9a0"/>
<rect x="83.6" y="361.4" width="4.0" height="4.3" fill="#22c9a0"/>
<rect x="89.2" y="364.7" width="4.0" height="1.0" fill="#22c9a0"/>
<rect x="94.7" y="365.0" width="4.0" height="0.7" fill="#22c9a0"/>
<rect x="100.2" y="365.0" width="4.0" height="0.7" fill="#22c9a0"/>
<rect x="105.7" y="365.0" width="4.0" height="0.7" fill="#22c9a0"/>
<rect x="111.3" y="359.8" width="4.0" height="5.9" fill="#22c9a0"/>
<rect x="116.8" y="358.9" width="4.0" height="6.8" fill="#22c9a0"/>
<rect x="122.3" y="356.3" width="4.0" height="9.4" fill="#22c9a0"/>
<rect x="127.8" y="356.1" width="4.0" height="9.6" fill="#22c9a0"/>
<rect x="133.3" y="358.0" width="4.0" height="7.7" fill="#22c9a0"/>
<rect x="138.9" y="358.9" width="4.0" height="6.8" fill="#22c9a0"/>
<rect x="144.4" y="358.0" width="4.0" height="7.7" fill="#22c9a0"/>
<rect x="149.9" y="357.2" width="4.0" height="8.5" fill="#22c9a0"/>
<rect x="155.4" y="355.9" width="4.0" height="9.8" fill="#22c9a0"/>
<rect x="161.0" y="355.8" width="4.0" height="9.9" fill="#22c9a0"/>
<rect x="166.5" y="355.0" width="4.0" height="10.7" fill="#22c9a0"/>
<rect x="172.0" y="356.3" width="4.0" height="9.4" fill="#22c9a0"/>
<rect x="177.5" y="358.1" width="4.0" height="7.6" fill="#22c9a0"/>
<rect x="183.1" y="360.3" width="4.0" height="5.4" fill="#22c9a0"/>
<rect x="188.6" y="361.8" width="4.0" height="3.9" fill="#22c9a0"/>
<rect x="194.1" y="362.0" width="4.0" height="3.7" fill="#22c9a0"/>
<rect x="199.6" y="362.5" width="4.0" height="3.2" fill="#22c9a0"/>
<rect x="205.1" y="362.8" width="4.0" height="2.9" fill="#22c9a0"/>
<rect x="210.7" y="363.6" width="4.0" height="2.1" fill="#22c9a0"/>
<rect x="216.2" y="364.6" width="4.0" height="1.1" fill="#22c9a0"/>
<rect x="221.7" y="365.7" width="4.0" height="0.8" fill="#f0582a"/>
<rect x="227.2" y="365.7" width="4.0" height="1.3" fill="#f0582a"/>
<rect x="232.8" y="365.7" width="4.0" height="1.5" fill="#f0582a"/>
<rect x="238.3" y="365.7" width="4.0" height="1.7" fill="#f0582a"/>
<rect x="243.8" y="365.7" width="4.0" height="1.7" fill="#f0582a"/>
<rect x="249.3" y="365.7" width="4.0" height="1.9" fill="#f0582a"/>
<rect x="254.9" y="365.7" width="4.0" height="2.1" fill="#f0582a"/>
<rect x="260.4" y="365.7" width="4.0" height="2.4" fill="#f0582a"/>
<rect x="265.9" y="365.7" width="4.0" height="2.7" fill="#f0582a"/>
<rect x="271.4" y="365.7" width="4.0" height="2.8" fill="#f0582a"/>
<rect x="276.9" y="365.7" width="4.0" height="3.0" fill="#f0582a"/>
<rect x="282.5" y="365.7" width="4.0" height="3.7" fill="#f0582a"/>
<rect x="288.0" y="365.7" width="4.0" height="4.7" fill="#f0582a"/>
<rect x="293.5" y="365.7" width="4.0" height="5.9" fill="#f0582a"/>
<rect x="299.0" y="365.7" width="4.0" height="6.4" fill="#f0582a"/>
<rect x="304.6" y="365.7" width="4.0" height="7.4" fill="#f0582a"/>
<rect x="310.1" y="365.7" width="4.0" height="8.0" fill="#f0582a"/>
<rect x="315.6" y="365.7" width="4.0" height="7.9" fill="#f0582a"/>
<rect x="321.1" y="365.7" width="4.0" height="7.3" fill="#f0582a"/>
<rect x="326.6" y="365.7" width="4.0" height="7.2" fill="#f0582a"/>
<rect x="332.2" y="365.7" width="4.0" height="3.9" fill="#f0582a"/>
<rect x="337.7" y="365.7" width="4.0" height="1.7" fill="#f0582a"/>
<rect x="343.2" y="363.6" width="4.0" height="2.1" fill="#22c9a0"/>
<rect x="348.7" y="360.1" width="4.0" height="5.6" fill="#22c9a0"/>
<rect x="354.3" y="358.9" width="4.0" height="6.8" fill="#22c9a0"/>
<rect x="359.8" y="359.7" width="4.0" height="6.0" fill="#22c9a0"/>
<rect x="365.3" y="361.2" width="4.0" height="4.5" fill="#22c9a0"/>
<rect x="370.8" y="362.5" width="4.0" height="3.2" fill="#22c9a0"/>
<rect x="376.4" y="364.0" width="4.0" height="1.7" fill="#22c9a0"/>
<rect x="381.9" y="365.0" width="4.0" height="0.7" fill="#22c9a0"/>
<rect x="387.4" y="365.7" width="4.0" height="1.2" fill="#f0582a"/>
<rect x="392.9" y="365.7" width="4.0" height="2.3" fill="#f0582a"/>
<rect x="398.4" y="365.7" width="4.0" height="3.0" fill="#f0582a"/>
<rect x="404.0" y="365.7" width="4.0" height="6.3" fill="#f0582a"/>
<rect x="409.5" y="365.7" width="4.0" height="7.3" fill="#f0582a"/>
<rect x="415.0" y="365.7" width="4.0" height="9.2" fill="#f0582a"/>
<rect x="420.5" y="365.7" width="4.0" height="16.6" fill="#f0582a"/>
<rect x="426.1" y="365.7" width="4.0" height="18.5" fill="#f0582a"/>
<rect x="431.6" y="365.7" width="4.0" height="17.8" fill="#f0582a"/>
<rect x="437.1" y="365.7" width="4.0" height="17.3" fill="#f0582a"/>
<rect x="442.6" y="365.7" width="4.0" height="16.8" fill="#f0582a"/>
<rect x="448.2" y="365.7" width="4.0" height="15.5" fill="#f0582a"/>
<rect x="453.7" y="365.7" width="4.0" height="14.2" fill="#f0582a"/>
<rect x="459.2" y="365.7" width="4.0" height="15.0" fill="#f0582a"/>
<rect x="464.7" y="365.7" width="4.0" height="12.9" fill="#f0582a"/>
<rect x="470.2" y="365.7" width="4.0" height="10.5" fill="#f0582a"/>
<rect x="475.8" y="365.7" width="4.0" height="7.2" fill="#f0582a"/>
<rect x="481.3" y="365.7" width="4.0" height="5.1" fill="#f0582a"/>
<rect x="486.8" y="365.7" width="4.0" height="2.8" fill="#f0582a"/>
<rect x="492.3" y="362.5" width="4.0" height="3.2" fill="#22c9a0"/>
<rect x="497.9" y="362.4" width="4.0" height="3.3" fill="#22c9a0"/>
<rect x="503.4" y="361.9" width="4.0" height="3.8" fill="#22c9a0"/>
<rect x="508.9" y="361.5" width="4.0" height="4.2" fill="#22c9a0"/>
<rect x="514.4" y="361.0" width="4.0" height="4.7" fill="#22c9a0"/>
<rect x="520.0" y="360.0" width="4.0" height="5.7" fill="#22c9a0"/>
<rect x="525.5" y="356.8" width="4.0" height="8.9" fill="#22c9a0"/>
<rect x="531.0" y="349.2" width="4.0" height="16.5" fill="#22c9a0"/>
<rect x="536.5" y="343.4" width="4.0" height="22.3" fill="#22c9a0"/>
<rect x="542.0" y="340.8" width="4.0" height="24.9" fill="#22c9a0"/>
<rect x="547.6" y="340.0" width="4.0" height="25.7" fill="#22c9a0"/>
<rect x="553.1" y="340.5" width="4.0" height="25.2" fill="#22c9a0"/>
<rect x="558.6" y="341.8" width="4.0" height="23.9" fill="#22c9a0"/>
<rect x="564.1" y="343.9" width="4.0" height="21.8" fill="#22c9a0"/>
<rect x="569.7" y="345.1" width="4.0" height="20.6" fill="#22c9a0"/>
<rect x="575.2" y="347.3" width="4.0" height="18.4" fill="#22c9a0"/>
<rect x="580.7" y="349.5" width="4.0" height="16.2" fill="#22c9a0"/>
<rect x="586.2" y="351.8" width="4.0" height="13.9" fill="#22c9a0"/>
<rect x="591.8" y="355.0" width="4.0" height="10.7" fill="#22c9a0"/>
<rect x="597.3" y="357.9" width="4.0" height="7.8" fill="#22c9a0"/>
<rect x="602.8" y="360.6" width="4.0" height="5.1" fill="#22c9a0"/>
<rect x="608.3" y="364.1" width="4.0" height="1.6" fill="#22c9a0"/>
<rect x="613.8" y="365.7" width="4.0" height="1.8" fill="#f0582a"/>
<rect x="619.4" y="365.7" width="4.0" height="4.3" fill="#f0582a"/>
<rect x="624.9" y="365.7" width="4.0" height="6.4" fill="#f0582a"/>
<rect x="630.4" y="365.7" width="4.0" height="7.5" fill="#f0582a"/>
<rect x="635.9" y="365.7" width="4.0" height="8.1" fill="#f0582a"/>
<rect x="641.5" y="365.7" width="4.0" height="8.5" fill="#f0582a"/>
<rect x="647.0" y="365.7" width="4.0" height="8.7" fill="#f0582a"/>
<rect x="652.5" y="365.7" width="4.0" height="8.9" fill="#f0582a"/>
<rect x="658.0" y="365.7" width="4.0" height="9.1" fill="#f0582a"/>
<rect x="663.6" y="365.7" width="4.0" height="9.2" fill="#f0582a"/>
<rect x="669.1" y="365.7" width="4.0" height="9.3" fill="#f0582a"/>
<rect x="674.6" y="365.7" width="4.0" height="9.3" fill="#f0582a"/>
<rect x="680.1" y="365.7" width="4.0" height="9.3" fill="#f0582a"/>
<rect x="685.6" y="365.7" width="4.0" height="9.3" fill="#f0582a"/>
<rect x="691.2" y="365.7" width="4.0" height="9.3" fill="#f0582a"/>
<rect x="696.7" y="365.7" width="4.0" height="9.3" fill="#f0582a"/>
<rect x="702.2" y="365.7" width="4.0" height="9.3" fill="#f0582a"/>
<rect x="707.7" y="365.7" width="4.0" height="9.3" fill="#f0582a"/>
<rect x="713.3" y="365.7" width="4.0" height="9.3" fill="#f0582a"/>
<rect x="718.8" y="365.7" width="4.0" height="9.3" fill="#f0582a"/>
<rect x="724.3" y="365.7" width="4.0" height="9.2" fill="#f0582a"/>
<rect x="729.8" y="365.7" width="4.0" height="9.0" fill="#f0582a"/>
<rect x="735.4" y="365.7" width="4.0" height="8.8" fill="#f0582a"/>
<rect x="740.9" y="365.7" width="4.0" height="8.3" fill="#f0582a"/>
<rect x="746.4" y="365.7" width="4.0" height="6.2" fill="#f0582a"/>
<rect x="751.9" y="365.7" width="4.0" height="5.8" fill="#f0582a"/>
<rect x="757.4" y="365.7" width="4.0" height="5.1" fill="#f0582a"/>
<rect x="763.0" y="365.7" width="4.0" height="2.9" fill="#f0582a"/>
<rect x="768.5" y="365.7" width="4.0" height="1.4" fill="#f0582a"/>
<rect x="774.0" y="365.7" width="4.0" height="1.3" fill="#f0582a"/>
<rect x="779.5" y="365.7" width="4.0" height="1.7" fill="#f0582a"/>
<rect x="785.1" y="365.7" width="4.0" height="4.0" fill="#f0582a"/>
<rect x="790.6" y="365.7" width="4.0" height="5.9" fill="#f0582a"/>
<rect x="796.1" y="365.7" width="4.0" height="8.1" fill="#f0582a"/>
<rect x="801.6" y="365.7" width="4.0" height="10.3" fill="#f0582a"/>
<rect x="807.2" y="365.7" width="4.0" height="11.6" fill="#f0582a"/>
<rect x="812.7" y="365.7" width="4.0" height="10.1" fill="#f0582a"/>
<rect x="818.2" y="365.7" width="4.0" height="8.8" fill="#f0582a"/>
<rect x="823.7" y="365.7" width="4.0" height="9.3" fill="#f0582a"/>
<rect x="829.2" y="365.7" width="4.0" height="10.4" fill="#f0582a"/>
<rect x="834.8" y="365.7" width="4.0" height="10.4" fill="#f0582a"/>
<rect x="840.3" y="365.7" width="4.0" height="9.8" fill="#f0582a"/>
<rect x="845.8" y="365.7" width="4.0" height="9.6" fill="#f0582a"/>
<rect x="851.3" y="365.7" width="4.0" height="10.7" fill="#f0582a"/>
<rect x="856.9" y="365.7" width="4.0" height="9.6" fill="#f0582a"/>
<rect x="862.4" y="365.7" width="4.0" height="6.3" fill="#f0582a"/>
<rect x="867.9" y="365.7" width="4.0" height="1.6" fill="#f0582a"/>
<rect x="873.4" y="362.8" width="4.0" height="2.9" fill="#22c9a0"/>
<rect x="878.9" y="358.7" width="4.0" height="7.0" fill="#22c9a0"/>
<rect x="884.5" y="357.4" width="4.0" height="8.3" fill="#22c9a0"/>
<rect x="890.0" y="358.0" width="4.0" height="7.7" fill="#22c9a0"/>
<rect x="895.5" y="358.1" width="4.0" height="7.6" fill="#22c9a0"/>
<rect x="901.0" y="358.9" width="4.0" height="6.8" fill="#22c9a0"/>
<rect x="906.6" y="358.0" width="4.0" height="7.7" fill="#22c9a0"/>
<rect x="912.1" y="359.7" width="4.0" height="6.0" fill="#22c9a0"/>
<rect x="917.6" y="362.9" width="4.0" height="2.8" fill="#22c9a0"/>
<rect x="923.1" y="356.4" width="4.0" height="9.3" fill="#22c9a0"/>
<rect x="928.7" y="355.1" width="4.0" height="10.6" fill="#22c9a0"/>
<rect x="934.2" y="352.3" width="4.0" height="13.4" fill="#22c9a0"/>
<rect x="939.7" y="352.1" width="4.0" height="13.6" fill="#22c9a0"/>
<rect x="945.2" y="352.7" width="4.0" height="13.0" fill="#22c9a0"/>
<rect x="950.7" y="353.4" width="4.0" height="12.3" fill="#22c9a0"/>
<rect x="956.3" y="354.8" width="4.0" height="10.9" fill="#22c9a0"/>
<rect x="961.8" y="356.0" width="4.0" height="9.7" fill="#22c9a0"/>
<path d="M52.0 352.5 C53.3 352.5 57.4 352.5 60.0 352.5 C62.6 352.5 64.5 352.1 67.5 352.5 C70.5 352.9 74.8 353.8 78.0 355.0 C81.2 356.2 83.8 358.6 86.6 359.6 C89.4 360.6 91.3 360.8 95.0 361.0 C98.7 361.2 105.2 361.9 109.0 360.7 C112.8 359.5 114.8 356.4 118.0 354.0 C121.2 351.6 124.1 347.5 128.0 346.0 C131.9 344.5 137.9 345.8 141.6 345.0 C145.3 344.2 146.8 342.9 150.0 341.0 C153.2 339.1 157.4 335.5 160.7 333.7 C164.0 331.9 166.7 330.9 170.0 330.0 C173.3 329.1 176.4 328.4 180.7 328.3 C185.0 328.2 190.4 329.5 195.8 329.3 C201.2 329.1 208.3 327.1 213.0 327.2 C217.7 327.3 218.3 329.1 223.7 329.8 C229.1 330.5 238.0 330.9 245.2 331.5 C252.4 332.1 260.2 332.5 266.7 333.2 C273.1 333.9 278.5 334.5 283.9 335.8 C289.3 337.1 293.5 339.1 298.9 341.1 C304.3 343.1 311.3 345.8 316.1 347.6 C320.9 349.4 324.0 352.3 327.9 351.9 C331.8 351.5 335.6 347.9 339.7 345.4 C343.8 342.9 348.7 338.6 352.6 336.9 C356.5 335.2 359.4 335.4 363.3 335.3 C367.2 335.2 373.4 336.0 376.2 336.2 C379.0 336.4 377.6 336.0 380.0 336.6 C382.4 337.2 387.2 338.7 390.8 339.8 C394.4 340.9 398.9 342.1 401.6 343.4 C404.3 344.7 404.9 346.6 407.0 347.8 C409.1 349.0 412.3 349.8 414.1 350.5 C415.9 351.2 416.5 350.8 417.7 352.3 C418.9 353.8 420.1 357.1 421.3 359.5 C422.5 361.9 423.4 364.3 424.9 366.7 C426.4 369.1 428.2 371.8 430.3 373.9 C432.4 376.0 434.8 377.6 437.5 379.3 C440.2 381.0 443.5 382.6 446.5 383.8 C449.5 385.0 453.0 385.3 455.4 386.5 C457.8 387.7 458.4 390.1 460.8 391.0 C463.2 391.9 466.8 392.2 469.8 391.9 C472.8 391.6 475.8 390.2 478.8 389.2 C481.8 388.1 485.1 386.8 487.8 385.6 C490.5 384.4 493.0 382.9 495.0 382.0 C497.0 381.1 497.5 380.9 500.0 380.2 C502.5 379.5 507.0 378.9 510.0 378.0 C513.0 377.1 515.7 376.0 518.0 375.0 C520.3 374.0 522.4 373.1 524.0 372.0 C525.6 370.9 526.4 370.7 527.5 368.5 C528.6 366.3 529.1 362.0 530.4 358.7 C531.7 355.4 533.4 352.0 535.4 348.6 C537.4 345.2 540.0 341.9 542.5 338.5 C545.0 335.1 547.6 331.5 550.6 328.3 C553.6 325.1 557.3 321.7 560.7 319.2 C564.1 316.7 567.7 314.8 570.9 313.2 C574.1 311.6 577.1 310.6 580.0 309.7 C582.9 308.8 584.5 307.8 588.1 307.9 C591.7 308.0 597.1 308.8 601.6 310.1 C606.1 311.4 612.0 314.2 615.1 315.7 C618.2 317.2 617.7 317.9 620.0 319.0 C622.3 320.1 624.1 321.0 629.0 322.5 C633.9 324.0 643.2 325.9 649.2 328.0 C655.2 330.1 660.1 332.7 665.0 334.8 C669.9 336.9 673.2 338.5 678.4 340.4 C683.6 342.3 690.4 343.7 696.4 346.0 C702.4 348.3 709.1 351.9 714.4 354.0 C719.6 356.1 723.6 357.5 727.9 358.9 C732.2 360.3 736.6 361.8 740.0 362.5 C743.4 363.2 744.8 362.8 748.5 362.9 C752.2 363.0 757.5 363.7 762.0 363.4 C766.5 363.1 771.7 361.2 775.4 361.1 C779.1 361.0 781.4 361.7 784.4 362.9 C787.4 364.1 790.4 366.2 793.4 368.5 C796.4 370.8 799.8 374.1 802.4 376.4 C805.0 378.6 806.6 381.2 809.2 382.0 C811.8 382.8 815.5 380.7 818.1 380.9 C820.7 381.1 822.3 381.8 824.9 383.1 C827.5 384.4 830.9 387.3 833.9 388.8 C836.9 390.3 840.2 390.8 842.9 392.1 C845.6 393.4 847.3 395.3 850.0 396.6 C852.7 397.9 856.0 400.4 859.0 400.0 C862.0 399.6 865.0 396.6 868.0 394.4 C871.0 392.1 873.3 389.3 877.0 386.5 C880.7 383.7 885.2 379.9 890.4 377.5 C895.6 375.1 903.9 372.9 908.4 372.4 C912.9 371.8 914.4 375.2 917.4 374.2 C920.4 373.2 923.4 368.7 926.4 366.3 C929.4 363.9 932.0 362.2 935.4 359.6 C938.8 357.0 943.2 352.5 946.6 350.6 C950.0 348.7 952.6 348.9 955.6 348.3 C958.6 347.7 963.1 347.4 964.6 347.2" fill="none" stroke="#5878e0" stroke-width="1.3" stroke-linejoin="round"/>
<path d="M51.7 376.4 C54.8 375.0 64.4 370.6 70.0 368.0 C75.6 365.4 78.7 362.0 85.4 360.7 C92.1 359.4 103.4 360.9 110.0 360.0 C116.6 359.1 119.7 356.6 125.0 355.0 C130.3 353.4 137.4 351.9 141.6 350.6 C145.8 349.3 146.9 348.1 150.0 347.0 C153.1 345.9 156.7 345.3 160.0 343.8 C163.3 342.3 166.2 339.6 170.0 337.9 C173.8 336.2 178.2 334.7 182.9 333.6 C187.6 332.5 191.1 332.2 197.9 331.5 C204.7 330.8 214.0 329.4 223.7 329.3 C233.4 329.2 247.0 330.4 255.9 331.0 C264.9 331.6 271.7 331.8 277.4 332.6 C283.1 333.4 284.9 334.4 290.3 335.8 C295.7 337.2 302.4 339.3 309.6 341.1 C316.8 342.9 326.5 346.1 333.3 346.5 C340.1 346.9 344.8 344.4 350.5 343.3 C356.2 342.2 362.7 341.0 367.6 340.1 C372.5 339.2 374.9 338.2 380.0 338.0 C385.1 337.8 393.2 338.3 398.0 338.9 C402.8 339.5 405.4 340.6 408.7 341.6 C412.0 342.6 415.0 343.6 417.7 345.1 C420.4 346.6 422.2 348.4 424.9 350.5 C427.6 352.6 430.9 355.3 433.9 357.7 C436.9 360.1 439.9 362.5 442.9 364.9 C445.9 367.3 448.9 370.0 451.9 372.1 C454.9 374.2 457.8 376.0 460.8 377.5 C463.8 379.0 466.5 380.1 469.8 381.1 C473.1 382.2 477.3 383.3 480.6 383.8 C483.9 384.3 486.4 384.5 489.6 384.3 C492.8 384.1 497.4 383.1 500.0 382.9 C502.6 382.7 502.6 383.4 505.0 383.1 C507.4 382.8 510.7 382.0 514.2 381.0 C517.8 380.0 522.6 379.0 526.3 377.0 C530.0 375.0 533.0 372.2 536.4 368.8 C539.8 365.4 543.2 360.6 546.6 356.7 C550.0 352.8 553.3 348.9 556.7 345.5 C560.1 342.1 562.9 339.6 566.8 336.4 C570.7 333.2 576.1 329.0 580.0 326.3 C583.9 323.6 585.7 322.0 590.4 320.2 C595.1 318.4 603.5 316.4 608.4 315.7 C613.3 315.0 614.3 315.1 620.0 316.2 C625.7 317.3 635.0 320.3 642.5 322.5 C650.0 324.7 658.3 327.1 665.0 329.2 C671.7 331.2 676.9 332.9 682.9 334.8 C688.9 336.7 694.9 338.3 700.9 340.4 C706.9 342.5 712.4 344.8 718.9 347.2 C725.4 349.6 735.1 353.3 740.0 355.0 C744.9 356.7 744.5 356.5 748.5 357.3 C752.5 358.1 759.0 359.0 764.2 359.6 C769.5 360.2 775.1 360.0 780.0 360.7 C784.9 361.4 788.5 362.3 793.4 364.0 C798.3 365.7 804.0 368.7 809.2 370.8 C814.5 372.9 820.0 374.5 824.9 376.4 C829.8 378.3 834.2 380.3 838.4 382.0 C842.6 383.7 845.8 384.8 850.0 386.5 C854.2 388.2 859.8 391.2 863.5 392.1 C867.2 393.0 868.8 392.9 872.5 392.1 C876.2 391.4 881.5 389.2 886.0 387.6 C890.5 386.0 894.2 384.4 899.4 382.7 C904.6 381.0 911.4 379.7 917.4 377.5 C923.4 375.3 930.1 372.3 935.4 369.7 C940.6 367.1 944.0 364.2 948.9 361.8 C953.8 359.4 962.0 356.1 964.6 355.0" fill="none" stroke="#e6dc8c" stroke-width="1.3" stroke-linejoin="round"/>
<rect x="64.1" y="311.5" width="118" height="21" rx="10.5" fill="#1a1a23"/>
<text x="75.5" y="325.8" font-size="11.6" fill="#f0f0f4" font-weight="400" textLength="39.4" lengthAdjust="spacingAndGlyphs" stroke="#f0f0f4" stroke-width="0.4">MACD</text>
<text x="120.7" y="325.8" font-size="11.9" fill="#dcdce4" font-weight="400" textLength="41.1" lengthAdjust="spacingAndGlyphs" stroke="#dcdce4" stroke-width="0.35">(12,26,9)</text>
<path d="M165.2 317.8 L169.8 322 L165.2 326.2" fill="none" stroke="#e8e8ee" stroke-width="1.5" stroke-linecap="round" stroke-linejoin="round"/>
<text x="70.7" y="425.5" font-size="12.2" fill="#ececf2" font-weight="700" textLength="37.7" lengthAdjust="spacingAndGlyphs">09/10</text>
<text x="218.2" y="425.5" font-size="12.2" fill="#dcdce4" font-weight="400" textLength="30.8" lengthAdjust="spacingAndGlyphs" stroke="#dcdce4" stroke-width="0.3">12:00</text>
<text x="345.2" y="425.5" font-size="12.2" fill="#dcdce4" font-weight="400" textLength="31.8" lengthAdjust="spacingAndGlyphs" stroke="#dcdce4" stroke-width="0.3">18:00</text>
<text x="459.0" y="425.5" font-size="12.2" fill="#ececf2" font-weight="700" textLength="36.0" lengthAdjust="spacingAndGlyphs">10/10</text>
<text x="604.7" y="425.5" font-size="12.2" fill="#dcdce4" font-weight="400" textLength="32.0" lengthAdjust="spacingAndGlyphs" stroke="#dcdce4" stroke-width="0.3">12:00</text>
<text x="738.2" y="425.5" font-size="12.2" fill="#dcdce4" font-weight="400" textLength="30.6" lengthAdjust="spacingAndGlyphs" stroke="#dcdce4" stroke-width="0.3">18:00</text>
<text x="854.0" y="425.5" font-size="12.2" fill="#ececf2" font-weight="700" textLength="31.5" lengthAdjust="spacingAndGlyphs">11/10</text>
<text x="929.8" y="425.5" font-size="12.2" fill="#dcdce4" font-weight="400" textLength="35.0" lengthAdjust="spacingAndGlyphs" stroke="#dcdce4" stroke-width="0.3">09:00</text>
</svg>
</body></html>
